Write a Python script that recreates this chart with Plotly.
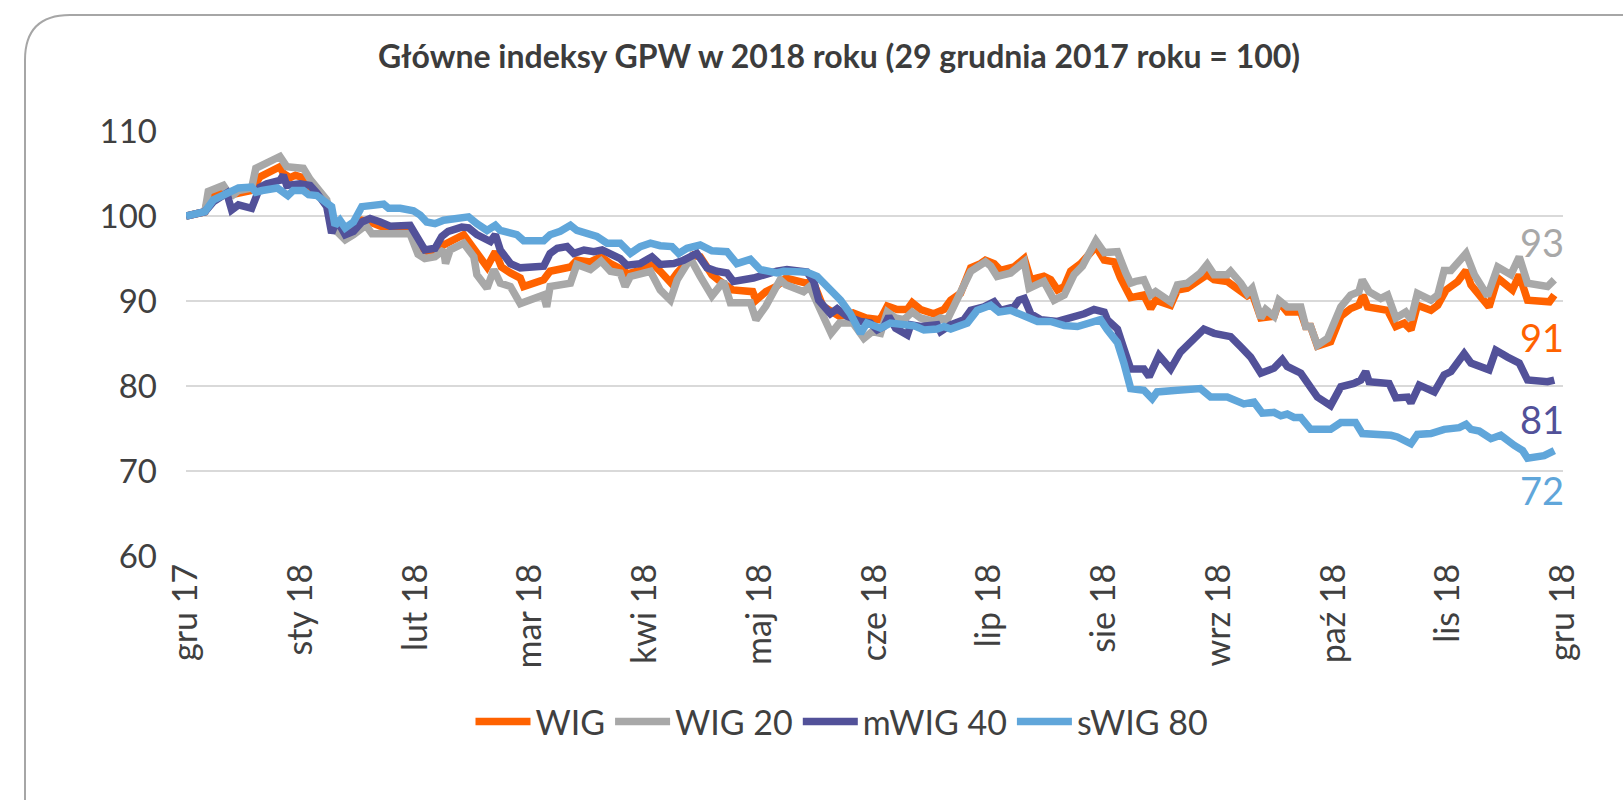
import pandas as pd
import plotly.graph_objects as go

START = pd.Timestamp("2017-12-29")

# ---- data: (days since 29 Dec 2017, index level) ----
wig_days = [0, 5, 6, 10, 12, 14, 17.4, 19.6, 21.4, 24.9, 25.8, 27.6, 29, 31, 32.9, 37.3, 38.6, 40, 42.2, 44.4,
            46.6, 48.8, 51.5, 54.1, 59.4, 61, 63.3, 66, 68.3, 73.6, 74.9, 78, 79.8, 82, 83.6, 86, 88.6, 89.5,
            94.8, 96.5, 101.9, 103.6, 107.2, 110, 112.5, 116, 117, 120.4, 123.9, 125.7, 128.4, 130.2, 134.5,
            136.3, 139.4, 141.6, 144.9, 150.2, 151.1, 153.7, 156.4, 159, 162.6, 164.4, 166.2, 168.8, 173.2,
            176.8, 180.3, 184, 185.9, 188.5, 191.2, 192.5, 194.7, 198.2, 200.9, 202.7, 205.3, 208, 210.6, 211.9,
            214.2, 215.9, 219.5, 222.2, 223.9, 227.4, 229.2, 231, 232.8, 234.5, 237.2, 241.2, 243.4, 246, 247.7,
            250.4, 253.9, 255.7, 257, 261, 262.8, 265.4, 270.7, 272.5, 276, 281.3, 282.6, 284.9, 288.4, 289.7,
            291.9, 295.5, 296.8, 298.1, 299.9, 303.4, 306.1, 308.7, 310.9, 312, 313.2, 316.7, 318.5, 320.7,
            322.9, 324.7, 326.4, 330, 331.8, 334, 337.1, 339.3, 340.6, 345.4, 347.7, 351.6, 353.4, 355.6,
            361.4, 362.7]
wig_vals = [100, 100.5, 102.3, 103.2, 102.5, 102.7, 103, 104.6, 105, 105.8, 105, 104.5, 104.8, 104.5, 103.3,
            101.6, 99.3, 99.3, 98.4, 99, 99.5, 99.3, 98.8, 98.6, 98.4, 97.2, 95.2, 95.8, 96.6, 97.8, 97.0, 94.8,
            94.0, 95.8, 94.0, 93.3, 92.7, 91.7, 92.5, 93.5, 94.0, 94.8, 94.6, 95.2, 94.4, 93.6, 93.2, 93.6,
            94.3, 93.5, 92.2, 93.3, 95.4, 95.2, 93.1, 92.3, 91.3, 91.1, 90.1, 91.1, 91.7, 92.7, 92.3, 92.1,
            92.3, 89.4, 88.2, 88.6, 88.0, 87.8, 89.4, 89, 89, 89.8, 89, 88.5, 89, 90.1, 90.9, 93.9, 94.4, 94.8,
            94.4, 93.6, 94, 95, 92.5, 92.9, 92.5, 91.3, 91.7, 93.5, 94.4, 96.4, 94.8, 94.6, 92.7, 90.4, 90.7,
            89.1, 90.1, 89.5, 91.3, 91.5, 93.1, 92.5, 92.3, 90.6, 90.9, 88.0, 88.2, 89.9, 88.7, 88.7, 87, 87,
            84.7, 85.2, 88.2, 89.1, 89.5, 90.7, 89.3, 89.1, 88.9, 87, 87.4, 86.6, 89.5, 88.9, 89.5, 91.3, 92.3,
            93.6, 91.9, 89.3, 92.7, 91.3, 93.1, 90.1, 89.9, 90.7]

wig20_days = [0, 5, 5.9, 9.9, 10.8, 12.5, 13.9, 17.4, 18.5, 19.6, 24.9, 26.7, 31.1, 32.9, 37.3, 38.6, 42.2,
              44.4, 47.7, 49.3, 59.4, 61.5, 63.3, 66, 68.3, 68.8, 70, 73.6, 76.3, 77.1, 79.8, 81.6, 83.3, 86,
              88.6, 94.8, 95.6, 96.5, 101.9, 103.6, 107.2, 110, 112.5, 115.1, 116.4, 117.8, 123.1, 125.7, 128.4,
              130.2, 133.7, 136.3, 139.4, 142.5, 144.3, 149.6, 151.1, 153.7, 157.5, 159, 163.7, 165.3, 167.9,
              171, 173.2, 176.8, 179.7, 181.9, 184.1, 185.9, 188.1, 190.3, 192.5, 194.7, 198.2, 200, 201.8,
              204.4, 208, 211.9, 213.3, 215, 218.6, 222.2, 223.5, 227.4, 230.1, 232.8, 235.4, 237.6, 241.2,
              243.4, 246.9, 249.1, 250.4, 251.7, 253.9, 255.7, 257, 261, 262.8, 265.4, 268.9, 270.7, 272.5, 276,
              276.9, 279.6, 281.3, 282.6, 284.9, 286.2, 288.4, 289.7, 291.9, 295.5, 296.8, 298.1, 299.9, 302.6,
              306.1, 308.7, 310.9, 311.8, 313.6, 316.7, 318.5, 320.7, 323.3, 324.7, 326.4, 330, 331.8, 333.5,
              335.3, 339.3, 341.5, 345, 347.7, 351.2, 353.4, 355.6, 360.9, 362.7]
wig20_vals = [100, 100.5, 102.9, 103.6, 103.0, 102.5, 103, 103.3, 105.6, 105.8, 107, 105.8, 105.6, 104.3,
              101.9, 98.8, 97.2, 97.8, 98.9, 97.9, 97.9, 95.5, 95, 95.2, 96, 94.4, 96, 96.8, 95.2, 93.1, 91.5,
              93.7, 92.1, 91.7, 89.7, 90.7, 89.3, 91.7, 92.1, 94.3, 93.7, 94.7, 93.5, 93.3, 91.7, 92.9, 93.5,
              91.3, 90.1, 92.5, 95, 92.9, 90.6, 92.3, 89.8, 89.8, 87.8, 89.4, 92.5, 91.9, 91.1, 91.7, 89.2, 86.2,
              87.4, 87.4, 85.6, 86.4, 86.2, 88.7, 88, 87.8, 88.7, 88, 87.6, 88, 87.8, 90.3, 93.5, 94.6, 94.1,
              92.9, 93.3, 94.6, 91.5, 92.3, 90.1, 90.7, 93.1, 94.1, 97.1, 95.7, 95.8, 93.3, 92.1, 92.3, 92.5,
              90.7, 91.1, 89.9, 91.9, 92.1, 93.3, 94.3, 93.1, 93.1, 93.5, 92.1, 90.9, 91.5, 88, 89, 88.2, 90.1,
              89.3, 89.3, 87, 87, 84.8, 85.6, 89.3, 90.7, 91.1, 92.5, 91.1, 90.3, 90.7, 88, 88.7, 87.8, 90.9,
              90.1, 90.7, 93.6, 93.6, 95.6, 93.1, 90.6, 94, 93.1, 95.2, 92.1, 91.7, 92.5]

mwig40_days = [0, 5, 7.3, 10.8, 12.1, 13.9, 17.4, 19.6, 21.4, 24.9, 25.8, 26.7, 30.2, 32.9, 34.7, 37.3, 38.6,
               40, 42.2, 44.4, 46.6, 48.8, 51.5, 54.1, 59.4, 61.3, 63.3, 66, 67.8, 69.5, 73.1, 74.9, 77.1, 80.7,
               82, 83.3, 86, 88.6, 94.8, 96.5, 98.4, 101, 102.8, 105.5, 108.1, 110.3, 112.5, 115.1, 116.9, 120.4,
               123.5, 125.7, 129.3, 131.9, 135.4, 138.1, 140.7, 143.4, 145.1, 150.4, 156.6, 159.3, 164.6, 166.4,
               167.7, 170.8, 172.6, 175.2, 178.8, 181.4, 183.2, 185, 186.3, 188.1, 191.2, 192.1, 194.7, 199.1,
               200, 202.7, 206.2, 208, 211.5, 214.2, 215.9, 219.5, 220.8, 222.2, 223.9, 226.6, 231, 234.5, 238.1,
               240.7, 243.4, 244.2, 246.9, 248.6, 250.4, 253.9, 255.3, 257.9, 261, 263.6, 267.2, 269.8, 272.5,
               276.9, 279.6, 282.2, 284.9, 288.4, 290.6, 291.9, 295.5, 298.1, 299.9, 303.4, 306.1, 309.6, 311.4,
               312.7, 313.6, 318.9, 320.7, 323.8, 324.7, 326.9, 330.9, 333.5, 335.3, 338.8, 340.6, 345.4, 347.2,
               350.3, 353.4, 355.6, 360.9, 362.7]
mwig40_vals = [100, 100.5, 101.7, 102.7, 100.7, 101.3, 100.9, 103.4, 103.8, 104.2, 104.8, 103.6, 103.8, 103.6,
               102.7, 101.1, 98, 99.5, 97.8, 98.2, 99.3, 99.7, 99.3, 98.8, 98.9, 97.6, 96, 96.2, 97.6, 98.2,
               98.7, 98.6, 97.8, 97, 97.8, 96, 94.4, 93.9, 94.1, 95.6, 96.2, 96.4, 95.6, 96, 95.8, 96, 95.6, 95,
               94.2, 94.4, 95.2, 94.3, 94.4, 94.8, 95.6, 93.9, 93.5, 93.3, 92.3, 92.7, 93.5, 93.7, 93.4, 92.3,
               90.1, 88.5, 89.1, 88.2, 87.6, 87.4, 86.6, 87, 88.2, 86.8, 86, 87.2, 87, 87.2, 86.4, 87.2, 87.8,
               88.9, 89.3, 89.9, 88.9, 89.3, 90.1, 90.3, 88.5, 87.8, 87.6, 88, 88.5, 89, 88.7, 87.8, 86.7, 84.4,
               82, 82, 81.1, 83.6, 82, 84, 85.5, 86.7, 86.2, 85.8, 84.6, 83.4, 81.5, 82.1, 83.1, 82.3, 81.5, 79.9,
               78.7, 77.7, 79.9, 80.3, 80.7, 81.7, 80.5, 80.3, 78.6, 78.7, 78, 80.1, 79.3, 81.3, 81.7, 83.8, 82.7,
               81.9, 84.2, 83.4, 82.7, 80.7, 80.5, 80.7]

swig80_days = [0, 5, 7.3, 10.8, 13.9, 17.4, 18.5, 20.2, 24.2, 27, 28.4, 31.1, 32.5, 34.7, 37.3, 38.6, 39.5,
               40.8, 42.2, 44.4, 46.6, 48.8, 52.4, 53.7, 56.8, 60.3, 62.1, 63.8, 66, 68.3, 70.9, 73.6, 74.9,
               77.1, 79.8, 82, 83.3, 87.7, 89.5, 94.8, 96.5, 99.2, 101.9, 103.6, 107.2, 108.9, 111.6, 115.1,
               117.8, 120.4, 123.1, 125.7, 128.8, 130.6, 132.8, 136.3, 139.4, 143.4, 146, 149.6, 152.2, 156.6,
               158.4, 161.1, 164.6, 167.3, 169.9, 173.5, 176.1, 178.8, 180.5, 184.1, 186.7, 190.3, 192.9, 195.6,
               199.1, 200.9, 202.7, 207.1, 209.7, 213.3, 215.5, 218.6, 222.2, 225.7, 229.2, 232.8, 236.3, 238.9,
               242.4, 244.2, 246.9, 248.6, 250.4, 253.9, 256.1, 257.4, 261, 262.8, 268.9, 271.6, 276, 277.8,
               280.4, 283.1, 285.3, 288.4, 290.2, 291.9, 293.7, 295.5, 298.1, 303.4, 306.1, 310, 311.8, 319.4,
               321.1, 324.7, 326.4, 330, 333.5, 337.5, 339.3, 340.6, 342.8, 345.9, 348.5, 352.1, 354.3, 355.6,
               360, 362.7]
swig80_vals = [100, 100.5, 101.9, 102.7, 103.3, 103.4, 102.8, 103.0, 103.3, 102.4, 103, 103, 102.5, 102.4,
               101.7, 101.1, 98.9, 99.5, 98.6, 99.3, 101.1, 101.2, 101.4, 100.9, 100.9, 100.6, 100.1, 99.3,
               99.1, 99.5, 99.7, 100, 99.9, 99.1, 98.3, 98.9, 98.3, 97.8, 97.1, 97.1, 97.8, 98.2, 98.9, 98.3,
               97.9, 97.6, 96.8, 96.8, 95.6, 96.4, 96.8, 96.5, 96.4, 95.6, 96.2, 96.6, 95.9, 95.8, 94.4, 94.9,
               93.7, 93.3, 93.5, 93.4, 93.4, 92.9, 91.7, 90.1, 88.5, 86.2, 87.4, 86.8, 87.4, 87.2, 87.1, 86.6,
               86.7, 87, 86.7, 87.4, 88.9, 89.5, 88.7, 88.9, 88.2, 87.6, 87.6, 87.1, 87, 87.4, 87.8, 86.6, 85.1,
               82.7, 79.7, 79.5, 78.5, 79.3, 79.3, 79.5, 79.7, 78.7, 78.7, 78.3, 77.9, 78.1, 76.8, 76.9, 76.5,
               76.7, 76.3, 76.3, 74.9, 74.9, 75.7, 75.7, 74.4, 74.2, 74, 73.2, 74.3, 74.4, 74.9, 75.1, 75.5,
               74.9, 74.7, 73.8, 74.2, 73, 72.4, 71.5, 71.8, 72.4]

series_names = ["WIG", "WIG 20", "mWIG 40", "sWIG 80"]
series_days = [wig_days, wig20_days, mwig40_days, swig80_days]
series_vals = [wig_vals, wig20_vals, mwig40_vals, swig80_vals]
series_colors = ["#FF6200", "#A8A8A8", "#525199", "#60A6DA"]
end_labels = ["91", "93", "81", "72"]
end_label_shift = [-42, 38, -39, -39]

month_labels = ["gru 17", "sty 18", "lut 18", "mar 18", "kwi 18", "maj 18", "cze 18",
                "lip 18", "sie 18", "wrz 18", "paź 18", "lis 18", "gru 18"]
y_ticks = [60, 70, 80, 90, 100, 110]

FONT = "Lato"
TXT = "#404040"

fig = go.Figure()
for name, d, v, c in zip(series_names, series_days, series_vals, series_colors):
    dates = [START + pd.Timedelta(days=float(x)) for x in d]
    fig.add_trace(go.Scatter(x=dates, y=v, mode="lines", name=name,
                             line=dict(color=c, width=7.5)))

for d, v, c, lab, sh in zip(series_days, series_vals, series_colors, end_labels, end_label_shift):
    fig.add_annotation(x=START + pd.Timedelta(days=float(d[-1])), y=v[-1], text=lab,
                       showarrow=False, xanchor="center", yanchor="middle", xshift=-12, yshift=sh,
                       font=dict(family=FONT, size=38, color=c))

tickvals = [START + pd.Timedelta(days=365 * i / 12) for i in range(len(month_labels))]

W, H = 1623, 800
L, R, T, B = 186, 60, 131, 244
pw, ph = W - L - R, H - T - B

def px_x(x):
    return (x - L) / pw

def px_y(y):
    return (H - B - y) / ph

# rounded card border (extends beyond right/bottom edge)
x0, y0 = px_x(25), px_y(15)
x1, y1 = px_x(1650), px_y(830)
rx, ry = 45 / pw, 45 / ph
path = (f"M {x0},{y1} L {x0},{y0 - ry} Q {x0},{y0} {x0 + rx},{y0} "
        f"L {x1},{y0}")
fig.add_shape(type="path", path=path, xref="paper", yref="paper",
              line=dict(color="#A6A6A6", width=2), layer="below")

fig.update_layout(
    width=W, height=H,
    margin=dict(l=L, r=R, t=T, b=B),
    paper_bgcolor="white", plot_bgcolor="white",
    title=dict(text="<b>Główne indeksy GPW w 2018 roku (29 grudnia 2017 roku = 100)</b>",
               x=839 / W, xanchor="center", y=1 - 57 / H, yanchor="middle",
               font=dict(family=FONT, size=32, color="#3C3C3C")),
    font=dict(family=FONT, color=TXT),
    showlegend=True,
    legend=dict(orientation="h", x=px_x(842), xanchor="center", y=px_y(722), yanchor="middle",
                font=dict(family=FONT, size=34, color=TXT), itemwidth=55,
                bgcolor="rgba(0,0,0,0)"),
    xaxis=dict(type="date", range=[START, START + pd.Timedelta(days=365)],
               tickmode="array", tickvals=tickvals, ticktext=month_labels, tickangle=-90,
               tickfont=dict(family=FONT, size=34, color=TXT), showgrid=False,
               showline=False, zeroline=False, ticks="", automargin=False),
    yaxis=dict(range=[60, 110], tickmode="array", tickvals=y_ticks,
               tickfont=dict(family=FONT, size=33, color=TXT), showgrid=True,
               gridcolor="#D9D9D9", gridwidth=2, zeroline=False, showline=False,
               ticks="", ticklabelstandoff=28, automargin=False),
)

fig.write_html("out.html", config={"displayModeBar": False},
               post_script="document.body.style.margin='0px';")
